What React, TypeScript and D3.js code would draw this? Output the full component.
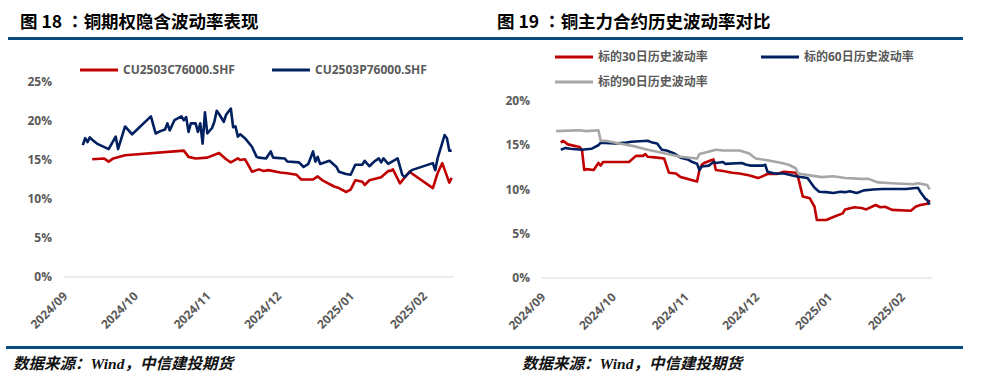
import React from "react";
import * as d3 from "d3";

// 图18：铜期权隐含波动率 (%)
const callIV: [string, number][] = [
  ["2024-09-12", 15.1], ["2024-09-17", 15.2], ["2024-09-19", 14.8], ["2024-09-21", 15.2],
  ["2024-09-26", 15.6], ["2024-10-21", 16.2], ["2024-10-23", 15.4], ["2024-10-26", 15.2],
  ["2024-10-31", 15.3], ["2024-11-05", 15.9], ["2024-11-08", 15.1], ["2024-11-10", 14.7],
  ["2024-11-13", 15.2], ["2024-11-14", 15.0], ["2024-11-16", 15.1], ["2024-11-17", 14.6],
  ["2024-11-19", 13.5], ["2024-11-21", 13.7], ["2024-11-22", 13.8], ["2024-11-24", 13.6],
  ["2024-11-26", 13.7], ["2024-12-01", 13.4], ["2024-12-04", 13.3], ["2024-12-08", 13.1],
  ["2024-12-10", 12.5], ["2024-12-15", 12.5], ["2024-12-17", 12.9], ["2024-12-19", 12.4],
  ["2024-12-24", 11.6], ["2024-12-26", 11.4], ["2024-12-29", 10.9], ["2024-12-31", 11.2],
  ["2025-01-02", 12.4], ["2025-01-05", 12.2], ["2025-01-06", 11.8], ["2025-01-08", 12.4],
  ["2025-01-13", 12.8], ["2025-01-16", 13.6], ["2025-01-17", 13.6], ["2025-01-18", 13.8],
  ["2025-01-21", 12.0], ["2025-01-25", 13.5], ["2025-02-04", 11.4], ["2025-02-06", 13.3],
  ["2025-02-08", 14.6], ["2025-02-11", 12.1], ["2025-02-12", 12.7],
];

const putIV: [string, number][] = [
  ["2024-09-08", 16.9], ["2024-09-09", 17.8], ["2024-09-10", 17.3], ["2024-09-11", 17.9],
  ["2024-09-12", 17.6], ["2024-09-14", 17.1], ["2024-09-19", 16.4], ["2024-09-22", 18.0],
  ["2024-09-23", 16.4], ["2024-09-26", 19.3], ["2024-09-29", 18.3], ["2024-10-07", 20.6],
  ["2024-10-09", 18.4], ["2024-10-11", 18.7], ["2024-10-13", 18.9], ["2024-10-14", 19.7],
  ["2024-10-15", 18.8], ["2024-10-17", 20.1], ["2024-10-20", 20.6], ["2024-10-21", 20.1],
  ["2024-10-22", 20.5], ["2024-10-23", 18.6], ["2024-10-24", 19.7], ["2024-10-26", 19.7],
  ["2024-10-27", 18.6], ["2024-10-28", 19.7], ["2024-10-29", 17.1], ["2024-10-30", 21.1],
  ["2024-10-31", 18.4], ["2024-11-02", 19.1], ["2024-11-03", 19.9], ["2024-11-04", 21.3],
  ["2024-11-05", 20.9], ["2024-11-07", 19.9], ["2024-11-08", 20.8], ["2024-11-10", 21.6],
  ["2024-11-11", 19.2], ["2024-11-12", 19.3], ["2024-11-13", 18.0], ["2024-11-14", 18.3],
  ["2024-11-16", 17.8], ["2024-11-19", 16.7], ["2024-11-21", 15.4], ["2024-11-22", 15.3],
  ["2024-11-25", 15.2], ["2024-11-27", 16.1], ["2024-11-28", 15.3], ["2024-12-03", 15.2],
  ["2024-12-04", 14.8], ["2024-12-09", 14.7], ["2024-12-11", 14.1], ["2024-12-13", 14.5],
  ["2024-12-15", 16.1], ["2024-12-16", 14.8], ["2024-12-17", 15.4], ["2024-12-18", 14.5],
  ["2024-12-22", 14.9], ["2024-12-25", 14.1], ["2024-12-26", 13.5], ["2024-12-29", 13.2],
  ["2024-12-31", 13.1], ["2025-01-02", 14.4], ["2025-01-05", 14.4], ["2025-01-06", 14.9],
  ["2025-01-08", 14.2], ["2025-01-10", 14.8], ["2025-01-12", 15.2], ["2025-01-13", 14.7],
  ["2025-01-14", 15.2], ["2025-01-16", 14.5], ["2025-01-20", 15.2], ["2025-01-22", 13.1],
  ["2025-01-23", 12.8], ["2025-01-26", 13.7], ["2025-02-04", 14.6], ["2025-02-05", 13.7],
  ["2025-02-06", 15.2], ["2025-02-09", 18.2], ["2025-02-10", 17.8], ["2025-02-11", 16.2],
  ["2025-02-12", 16.2],
];

// 图19：历史波动率 (%)
const hv30: [string, number][] = [
  ["2024-09-08", 15.3], ["2024-09-09", 15.5], ["2024-09-11", 15.1], ["2024-09-16", 14.8],
  ["2024-09-17", 14.5], ["2024-09-18", 12.2], ["2024-09-19", 12.3], ["2024-09-22", 12.2],
  ["2024-09-24", 13.0], ["2024-09-25", 12.7], ["2024-09-26", 13.1], ["2024-10-01", 13.1],
  ["2024-10-07", 13.1], ["2024-10-10", 13.8], ["2024-10-13", 13.8], ["2024-10-14", 14.0],
  ["2024-10-15", 13.7], ["2024-10-19", 13.6], ["2024-10-22", 13.5], ["2024-10-24", 11.9],
  ["2024-10-27", 11.8], ["2024-10-29", 11.4], ["2024-11-01", 11.2], ["2024-11-05", 10.9],
  ["2024-11-06", 12.2], ["2024-11-07", 12.8], ["2024-11-08", 13.0], ["2024-11-11", 13.3],
  ["2024-11-12", 13.4], ["2024-11-13", 12.2], ["2024-11-16", 12.1], ["2024-11-20", 11.9],
  ["2024-11-23", 11.8], ["2024-11-27", 11.6], ["2024-12-01", 11.3], ["2024-12-02", 11.4],
  ["2024-12-05", 11.75], ["2024-12-09", 11.75], ["2024-12-12", 12.0], ["2024-12-17", 11.9],
  ["2024-12-18", 11.4], ["2024-12-20", 9.2], ["2024-12-23", 9.0], ["2024-12-25", 8.05],
  ["2024-12-26", 6.55], ["2024-12-30", 6.55], ["2025-01-02", 6.9], ["2025-01-06", 7.3],
  ["2025-01-07", 7.75], ["2025-01-11", 8.0], ["2025-01-14", 7.9], ["2025-01-16", 7.75],
  ["2025-01-20", 8.25], ["2025-01-22", 8.0], ["2025-01-24", 8.05], ["2025-01-27", 7.7],
  ["2025-02-04", 7.6], ["2025-02-06", 8.05], ["2025-02-08", 8.25], ["2025-02-11", 8.4],
  ["2025-02-12", 8.8],
];

const hv60: [string, number][] = [
  ["2024-09-08", 14.5], ["2024-09-10", 14.7], ["2024-09-12", 14.6], ["2024-09-17", 14.5],
  ["2024-09-21", 14.6], ["2024-09-24", 15.0], ["2024-09-25", 15.3], ["2024-10-01", 15.2],
  ["2024-10-06", 15.3], ["2024-10-08", 15.4], ["2024-10-15", 15.5], ["2024-10-17", 15.3],
  ["2024-10-19", 15.2], ["2024-10-21", 14.5], ["2024-10-23", 14.4], ["2024-10-26", 14.1],
  ["2024-10-29", 13.6], ["2024-11-01", 13.4], ["2024-11-03", 13.1], ["2024-11-05", 12.9],
  ["2024-11-06", 12.2], ["2024-11-07", 12.6], ["2024-11-10", 12.7], ["2024-11-12", 13.1],
  ["2024-11-13", 13.0], ["2024-11-16", 13.1], ["2024-11-17", 12.9], ["2024-11-24", 13.0],
  ["2024-11-26", 12.8], ["2024-11-28", 12.7], ["2024-12-03", 12.7], ["2024-12-04", 12.8],
  ["2024-12-05", 12.0], ["2024-12-08", 11.8], ["2024-12-12", 11.8], ["2024-12-17", 11.5],
  ["2024-12-22", 11.3], ["2024-12-25", 10.2], ["2024-12-27", 9.75], ["2024-12-30", 9.7],
  ["2025-01-02", 9.6], ["2025-01-05", 9.75], ["2025-01-07", 9.7], ["2025-01-09", 9.8],
  ["2025-01-12", 9.6], ["2025-01-15", 9.9], ["2025-01-19", 10.0], ["2025-01-23", 10.05],
  ["2025-02-02", 10.05], ["2025-02-07", 10.2], ["2025-02-08", 9.75], ["2025-02-10", 9.0],
  ["2025-02-11", 8.8], ["2025-02-12", 8.3],
];

const hv90: [string, number][] = [
  ["2024-09-06", 16.6], ["2024-09-16", 16.7], ["2024-09-19", 16.6], ["2024-09-24", 16.7],
  ["2024-09-25", 15.5], ["2024-09-27", 15.5], ["2024-10-03", 15.2], ["2024-10-09", 14.9],
  ["2024-10-15", 14.5], ["2024-10-22", 14.1], ["2024-10-29", 13.7], ["2024-11-05", 13.5],
  ["2024-11-06", 14.0], ["2024-11-09", 14.2], ["2024-11-13", 14.5], ["2024-11-16", 14.4],
  ["2024-11-23", 14.4], ["2024-11-27", 14.1], ["2024-11-30", 13.5], ["2024-12-05", 13.3],
  ["2024-12-11", 13.0], ["2024-12-14", 12.8], ["2024-12-17", 12.4], ["2024-12-18", 11.8],
  ["2024-12-23", 11.6], ["2024-12-28", 11.4], ["2025-01-02", 11.5], ["2025-01-07", 11.3],
  ["2025-01-14", 11.2], ["2025-01-17", 11.2], ["2025-01-21", 10.8], ["2025-01-27", 10.7],
  ["2025-02-05", 10.6], ["2025-02-07", 10.7], ["2025-02-11", 10.5], ["2025-02-12", 10.0],
];

const monthTicks = ["2024-09-01", "2024-10-01", "2024-11-01", "2024-12-01", "2025-01-01", "2025-02-01"];
const monthLabels = ["2024/09", "2024/10", "2024/11", "2024/12", "2025/01", "2025/02"];
const leftYTicks = [0, 5, 10, 15, 20, 25];
const rightYTicks = [0, 5, 10, 15, 20];
const domainDates = ["2024-08-31", "2025-02-13"];

const parse = d3.timeParse("%Y-%m-%d");
const FONT = "'Open Sans', 'Noto Sans CJK SC', sans-serif";
const CJK = "'Noto Sans CJK SC', sans-serif";
const LABEL = "#595959";
const RULE = "#0b4a7d";

interface Series {
  name: string;
  color: string;
  data: [string, number][];
}

interface PanelProps {
  x0: number;
  x1: number;
  yTop: number;
  yBottom: number;
  yMax: number;
  yTicks: number[];
  series: Series[];
  legend: { x: number; y: number }[];
}

const Panel: React.FC<PanelProps> = ({ x0, x1, yTop, yBottom, yMax, yTicks, series, legend }) => {
  const x = d3
    .scaleTime()
    .domain(domainDates.map((d) => parse(d) as Date))
    .range([x0, x1]);
  const y = d3.scaleLinear().domain([0, yMax]).range([yBottom, yTop]);
  const line = d3
    .line<[string, number]>()
    .x((d) => x(parse(d[0]) as Date))
    .y((d) => y(d[1]));

  return (
    <g>
      <line x1={x0} x2={x1} y1={y(0)} y2={y(0)} stroke="#d9d9d9" strokeWidth={1} />
      {yTicks.map((t) => (
        <text
          key={t}
          x={x0 - 12}
          y={y(t)}
          dy="0.35em"
          textAnchor="end"
          fontSize={12}
          fontWeight={700}
          fill={LABEL}
          fontFamily={FONT}
        >
          {t}%
        </text>
      ))}
      {monthTicks.map((m, i) => {
        const tx = x(parse(m) as Date);
        return (
          <text
            key={m}
            transform={`translate(${tx - 1},${y(0) + 17}) rotate(-45)`}
            dy="0.35em"
            textAnchor="end"
            fontSize={12}
            fontWeight={700}
            fill={LABEL}
            fontFamily={FONT}
          >
            {monthLabels[i]}
          </text>
        );
      })}
      {series.map((s) => (
        <path
          key={s.name}
          d={line(s.data) || ""}
          fill="none"
          stroke={s.color}
          strokeWidth={2.6}
          strokeLinejoin="round"
        />
      ))}
      {series.map((s, i) => (
        <g key={s.name} transform={`translate(${legend[i].x},${legend[i].y})`}>
          <line x1={0} x2={38} y1={0} y2={0} stroke={s.color} strokeWidth={3} />
          <text x={43} y={0} dy="0.36em" fontSize={12} fontWeight={700} fill={LABEL} fontFamily={FONT}>
            {s.name}
          </text>
        </g>
      ))}
    </g>
  );
};

const Title: React.FC<{ x: number; num: string; text: string }> = ({ x, num, text }) => (
  <text x={x} y={28} fontSize={17.5} fontWeight={700} fontFamily={CJK} fill="#000">
    图 {num}{" "}
    <tspan fontFamily="'Noto Sans CJK TC', sans-serif">：</tspan>
    {text}
  </text>
);

const Source: React.FC<{ x: number }> = ({ x }) => (
  <text x={x} y={369} fontSize={15.5} fontWeight={700} fontStyle="italic" fill="#111" fontFamily={CJK}>
    数据来源：
    <tspan fontFamily="'Liberation Serif', serif">Wind</tspan>
    ，中信建投期货
  </text>
);

export default function App() {
  return (
    <div style={{ position: "fixed", left: 0, top: 0, width: 985, height: 386, background: "#fff" }}>
      <svg width={985} height={386} viewBox="0 0 985 386">
        <rect width={985} height={386} fill="#fff" />
        <Title x={20} num="18" text="铜期权隐含波动率表现" />
        <Title x={497} num="19" text="铜主力合约历史波动率对比" />
        <rect x={8} y={37} width={955} height={3} fill={RULE} />
        <rect x={6} y={346} width={957} height={3} fill={RULE} />

        <Panel
          x0={64}
          x1={454}
          yTop={82}
          yBottom={277}
          yMax={25}
          yTicks={leftYTicks}
          series={[
            { name: "CU2503C76000.SHF", color: "#c00000", data: callIV },
            { name: "CU2503P76000.SHF", color: "#002060", data: putIV },
          ]}
          legend={[
            { x: 80, y: 70 },
            { x: 272, y: 70 },
          ]}
        />
        <Panel
          x0={542}
          x1={932}
          yTop={101}
          yBottom={278}
          yMax={20}
          yTicks={rightYTicks}
          series={[
            { name: "标的30日历史波动率", color: "#c00000", data: hv30 },
            { name: "标的60日历史波动率", color: "#002060", data: hv60 },
            { name: "标的90日历史波动率", color: "#a6a6a6", data: hv90 },
          ]}
          legend={[
            { x: 555, y: 57 },
            { x: 761, y: 57 },
            { x: 555, y: 82 },
          ]}
        />
        <Source x={13} />
        <Source x={522} />
      </svg>
    </div>
  );
}
